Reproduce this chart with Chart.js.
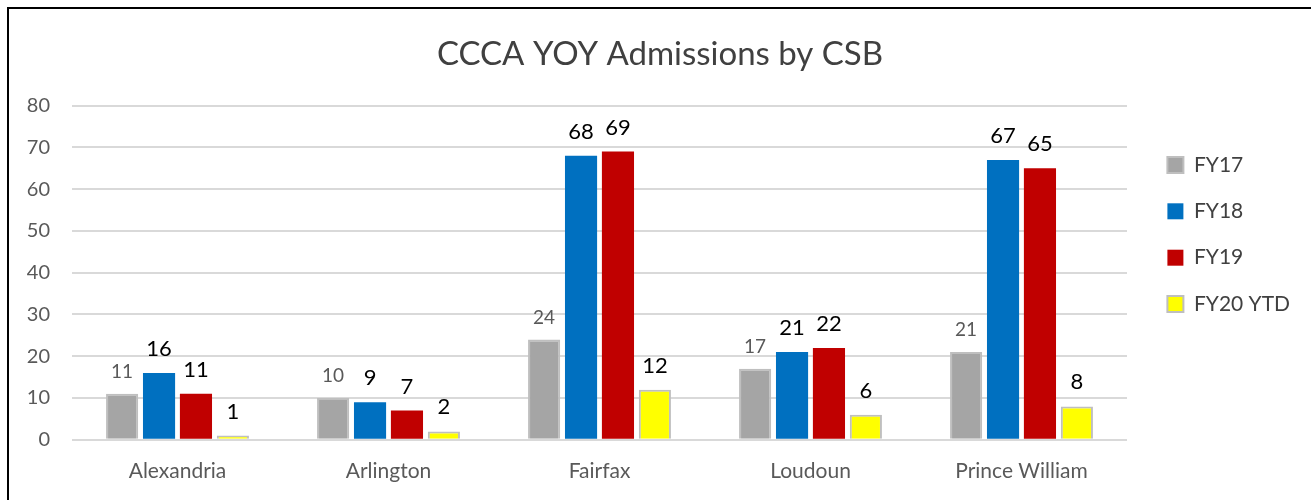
<!DOCTYPE html>
<html>
<head>
<meta charset="utf-8">
<script src="https://cdn.jsdelivr.net/npm/chart.js@4.4.0/dist/chart.umd.min.js"></script>
<style>
  html, body { margin: 0; padding: 0; background: #ffffff; overflow: hidden; }
  #frame {
    position: absolute; left: 7px; top: 7px;
    width: 1310px; height: 500px;
    border-top: 2px solid #000000; border-left: 2px solid #000000;
  }
  #chart { position: absolute; left: 0; top: 0; }
</style>
</head>
<body>
<div id="frame">
  <canvas id="chart" width="1302" height="491"></canvas>
</div>
<script>
let categories = ["Alexandria", "Arlington", "Fairfax", "Loudoun", "Prince William"];
let fy17 = [11, 10, 24, 17, 21];
let fy18 = [16, 9, 68, 21, 67];
let fy19 = [11, 7, 69, 22, 65];
let fy20 = [1, 2, 12, 6, 8];
let seriesNames = ["FY17", "FY18", "FY19", "FY20 YTD"];
let yTicks = [0, 10, 20, 30, 40, 50, 60, 70, 80];

let fontFamily = "Lato, 'Open Sans', sans-serif";

// draws the number above each bar
const valueLabels = {
    id: "valueLabels",
    afterDatasetsDraw(chart) {
        const ctx = chart.ctx;
        ctx.save();
        ctx.textAlign = "center";
        ctx.textBaseline = "alphabetic";
        chart.data.datasets.forEach((ds, i) => {
            const meta = chart.getDatasetMeta(i);
            ctx.fillStyle = i === 0 ? "#595959" : "#000000";
            ctx.font = (i === 0 ? "19px " : "22px ") + fontFamily;
            meta.data.forEach((bar, j) => {
                ctx.fillText(String(ds.data[j]), bar.x, bar.y - (i === 0 ? 16 : 17));
            });
        });
        ctx.restore();
    },
};

// legend sits a bit away from the plot and lower, like the excel one
const legendPlace = {
    id: "legendPlace",
    beforeLayout(chart) {
        const lg = chart.legend;
        if (lg && !lg._placed) {
            const fit = lg.fit;
            lg.fit = function () {
                fit.call(this);
                this.width = 184;
            };
            lg._placed = true;
        }
    },
    afterLayout(chart) {
        chart.legend.left += 15;
        chart.legend.top += 102;
    },
};

new Chart("chart", {
    type: "bar",
    data: {
        labels: categories,
        datasets: [
            { label: seriesNames[0], data: fy17, backgroundColor: "#a5a5a5", borderColor: "#bfbfbf", borderWidth: 2 },
            { label: seriesNames[1], data: fy18, backgroundColor: "#0070c0", borderWidth: 0 },
            { label: seriesNames[2], data: fy19, backgroundColor: "#c00000", borderWidth: 0 },
            { label: seriesNames[3], data: fy20, backgroundColor: "#ffff00", borderColor: "#bfbfbf", borderWidth: 2 },
        ],
    },
    options: {
        responsive: false,
        animation: false,
        categoryPercentage: 0.7,
        barPercentage: 0.87,
        layout: { padding: { left: 0, right: 0, top: 18, bottom: -3 } },
        scales: {
            x: {
                grid: { display: false, drawTicks: false },
                border: { display: false },
                ticks: { color: "#595959", font: { family: fontFamily, size: 21 }, padding: 19 },
            },
            y: {
                min: 0,
                max: 80,
                afterBuildTicks: (axis) => { axis.ticks = yTicks.map((v) => ({ value: v })); },
                afterFit: (axis) => { axis.width = 63; },
                grid: { color: "#d9d9d9", lineWidth: 2, drawTicks: false },
                border: { display: false },
                ticks: { color: "#595959", font: { family: fontFamily, size: 20 }, padding: 22 },
            },
        },
        plugins: {
            title: {
                display: true,
                text: "CCCA YOY Admissions by CSB",
                color: "#404040",
                font: { family: fontFamily, size: 33, weight: "normal" },
                padding: { top: 8, bottom: 31 },
            },
            legend: {
                position: "right",
                align: "start",
                labels: {
                    color: "#404040",
                    font: { family: fontFamily, size: 21 },
                    boxWidth: 16,
                    boxHeight: 16,
                    padding: 25.4,
                },
            },
            tooltip: { enabled: false },
        },
    },
    plugins: [valueLabels, legendPlace],
});
</script>
</body>
</html>
